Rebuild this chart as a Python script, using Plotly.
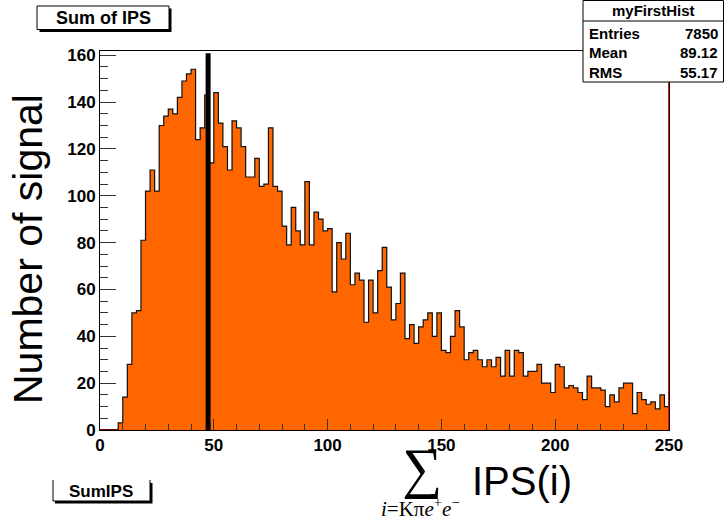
import plotly.graph_objects as go

# Histogram "myFirstHist": 125 bins of width 2 over [0, 250]
x_min = 0
x_max = 250
bin_width = 2
counts = [
    0, 0, 0, 0, 3, 14, 28, 50, 51, 81,
    102, 111, 102, 130, 134, 137, 135, 142, 149, 152,
    154, 124, 129, 143, 114, 144, 131, 121, 111, 132,
    129, 121, 108, 108, 116, 104, 105, 129, 104, 102,
    87, 79, 95, 85, 79, 106, 79, 93, 90, 85,
    86, 59, 80, 73, 84, 62, 67, 64, 46, 64,
    50, 68, 78, 61, 47, 54, 67, 39, 45, 37,
    44, 47, 50, 40, 50, 34, 33, 40, 51, 44,
    30, 33, 34, 30, 27, 30, 27, 31, 23, 34,
    23, 34, 33, 23, 25, 25, 28, 20, 20, 16,
    28, 27, 18, 19, 18, 16, 13, 23, 18, 18,
    17, 10, 15, 12, 18, 20, 20, 7, 16, 13,
    11, 12, 9, 15, 10,
]
y_max = 161.8
cut_value = 47.5

# statistics box
stats_name = "myFirstHist"
stats_labels = ["Entries", "Mean", "RMS"]
stats_values = ["7850", "89.12", "55.17"]

y_ticks = [0, 20, 40, 60, 80, 100, 120, 140, 160]
x_ticks = [0, 50, 100, 150, 200, 250]

edges = [x_min + i * bin_width for i in range(len(counts) + 1)]
centers = [e + bin_width / 2 for e in edges[:-1]]

W, H = 724, 520
L, R, T, B = 100, 55, 51, 90
PW, PH = W - L - R, H - T - B


def px(x):
    return (x - L) / PW


def py(y):
    return (H - B - y) / PH


fig = go.Figure()

fig.add_trace(go.Bar(
    x=centers, y=counts, width=bin_width,
    marker=dict(color="#ff6600", line=dict(width=0)),
    hoverinfo="skip", showlegend=False,
))

# step outline starting at the first filled bin
first = next(i for i, c in enumerate(counts) if c > 0)
step_x = [edges[first]] + edges[first:]
step_y = [0] + counts[first:] + [counts[-1]]
fig.add_trace(go.Scatter(
    x=step_x, y=step_y, mode="lines",
    line=dict(color="#111111", width=1.2, shape="hv"),
    hoverinfo="skip", showlegend=False,
))

shapes = []
# empty leading bins drawn at zero
shapes.append(dict(type="line", xref="x", yref="y", x0=x_min, x1=edges[first],
                   y0=0, y1=0, line=dict(color="#7a0000", width=2), layer="above"))
# cut line
shapes.append(dict(type="line", xref="x", yref="y", x0=cut_value, x1=cut_value,
                   y0=0, y1=y_max - 1, line=dict(color="black", width=5), layer="above"))
# upper edge marker
shapes.append(dict(type="line", xref="x", yref="y", x0=x_max - 0.15, x1=x_max - 0.15,
                   y0=0, y1=y_max, line=dict(color="#e00000", width=1.2), layer="above"))


def pbox(x0, y0, x1, y1, fill="white", border="black", bw=1):
    return dict(type="rect", xref="paper", yref="paper",
                x0=px(x0), x1=px(x1), y0=py(y1), y1=py(y0),
                fillcolor=fill, line=dict(color=border, width=bw), layer="above")


def pline(x0, y0, x1, y1, color="black", w=1):
    return dict(type="line", xref="paper", yref="paper",
                x0=px(x0), x1=px(x1), y0=py(y0), y1=py(y1),
                line=dict(color=color, width=w), layer="above")


# title pave with shadow
shapes.append(pbox(39.5, 8.5, 171.5, 32, fill="black", bw=0))
shapes.append(pbox(37, 6, 169, 29.5))
# stats pave
shapes.append(pbox(583, 0.5, 723.5, 82))
shapes.append(pline(583, 21, 723.5, 21))
# bottom-left label pave
shapes.append(pbox(55, 483, 152.5, 503.5, fill="black", bw=0))
shapes.append(dict(type="rect", xref="paper", yref="paper",
                   x0=px(53), x1=px(150), y0=py(501), y1=py(480),
                   fillcolor="white", line=dict(width=0), layer="above"))
shapes.append(pline(53, 480, 53, 501))
shapes.append(pline(53, 501, 150, 501))
shapes.append(pline(150, 480, 150, 501))

annotations = []


def ptext(text, x, y, size, xanchor="center", family="Liberation Sans", weight="bold",
          angle=0, color="black"):
    annotations.append(dict(
        text=text, xref="paper", yref="paper", x=px(x), y=py(y),
        xanchor=xanchor, yanchor="middle", showarrow=False, textangle=angle,
        font=dict(family=family, size=size, color=color, weight=weight),
    ))


ptext("Sum of IPS", 103, 18, 18)
ptext(stats_name, 653, 10.5, 15)
for i, (lab, val) in enumerate(zip(stats_labels, stats_values)):
    yy = 34 + i * 19
    ptext(lab, 587, yy, 15, xanchor="left")
    ptext(val, 720, yy, 15, xanchor="right")
ptext("SumIPS", 101, 491, 17)

# axis titles
ptext("Number of signal", 28, 249, 41, weight="normal", angle=-90)
ptext("\u2211", 422, 468, 56, family="Liberation Serif", weight="normal")
ptext("IPS(i)", 522, 481, 40, weight="normal")
ptext("<i>i</i>=K\u03c0<i>e</i><sup>+</sup><i>e</i><sup>\u2212</sup>", 420, 507, 21,
      family="Liberation Serif", weight="normal")

axis_font = dict(family="Liberation Sans", size=17, color="black", weight="bold")

fig.update_layout(
    width=W, height=H,
    margin=dict(l=L, r=R, t=T, b=B, pad=0),
    paper_bgcolor="white", plot_bgcolor="white",
    bargap=0,
    shapes=shapes,
    annotations=annotations,
    xaxis=dict(
        range=[x_min, x_max], tickvals=x_ticks, ticks="inside", ticklen=11,
        tickcolor="#333333", tickwidth=1,
        minor=dict(dtick=10, ticks="inside", ticklen=6, tickcolor="#333333"),
        showline=True, linecolor="black", linewidth=1, mirror=True,
        showgrid=False, zeroline=False, tickfont=axis_font,
    ),
    yaxis=dict(
        range=[0, y_max], tickvals=y_ticks, ticks="inside", ticklen=16,
        tickcolor="#333333", tickwidth=1,
        minor=dict(dtick=5, ticks="inside", ticklen=8, tickcolor="#333333"),
        showline=True, linecolor="black", linewidth=1, mirror=True,
        showgrid=False, zeroline=False, tickfont=axis_font,
    ),
)

fig.write_html("out.html")
